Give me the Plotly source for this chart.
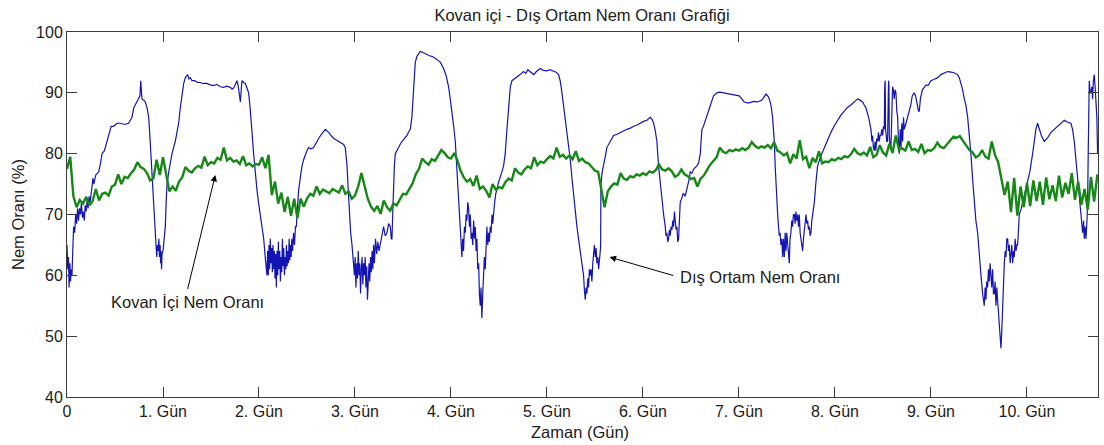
import numpy as np
import plotly.graph_objects as go

# ---------------- data ----------------
title_text = "Kovan içi - Dış Ortam Nem Oranı Grafiği"
x_label = "Zaman (Gün)"
y_label = "Nem Oranı (%)"
x_tick_vals = [0, 1, 2, 3, 4, 5, 6, 7, 8, 9, 10]
x_tick_text = ["0", "1. Gün", "2. Gün", "3. Gün", "4. Gün", "5. Gün",
               "6. Gün", "7. Gün", "8. Gün", "9. Gün", "10. Gün"]
y_tick_vals = [40, 50, 60, 70, 80, 90, 100]

# Inside-hive humidity (green), one reading every 1/30 day
green_step = 1 / 30
green_val = [
    # day 0
    77.5, 79.5, 73, 71.2, 72.4, 71.8, 72.9, 71.5, 72.2, 74.2, 72.3, 73.4, 73.6, 73.1, 74.6,
    74.9, 76.6, 75, 76.2, 76, 76.8, 77.4, 78.6, 77.8, 77.5, 76.8, 75.6, 75.9, 79, 76.5,
    # day 1
    79.4, 76.8, 73.8, 74.6, 73.9, 75.4, 76.1, 77.8, 77.2, 76.9, 77.6, 78, 77.7, 79.5, 78.1,
    78.6, 78.4, 79.3, 79, 81, 78.9, 79.3, 78.7, 78.9, 78.3, 79.6, 78.1, 78.4, 77.9, 78.3,
    # day 2
    78.2, 79.4, 77.6, 79.8, 73.2, 75.4, 71.8, 73.6, 70.4, 72.9, 69.8, 72.6, 69.4, 72.6, 71.3,
    72.6, 73.4, 73.1, 74.6, 73.4, 74.1, 73.8, 73.5, 74.2, 73.9, 73.6, 74.8, 73.4, 73.8, 72.6,
    # day 3
    73.1, 74.6, 76.8, 74.8, 72.6, 71.3, 70.6, 71.4, 70.1, 72.3, 71.2, 70.6, 71.8, 71.5, 72.4,
    73.4, 73.3, 74.2, 75.1, 76.6, 77.5, 79.2, 78.6, 78.2, 79.1, 78.8, 79.6, 80.6, 80.1, 79.4,
    # day 4
    79.2, 80.1, 78.9, 77.2, 76.1, 75.4, 75.8, 74.7, 76.4, 74.2, 74.6, 73.9, 72.8, 75, 74.1,
    74.5, 74.3, 75.3, 75.9, 75.6, 77.6, 76.9, 76.6, 77.4, 77.9, 77.6, 79.4, 78.1, 78.7, 78.5,
    # day 5
    79.1, 79.6, 79.2, 81, 79.5, 79.8, 79.2, 79.7, 79.1, 80.4, 78.8, 79.2, 78.6, 78.4, 77.8,
    77.2, 77, 74.2, 71.2, 73.8, 74.6, 75.1, 74.9, 76.8, 75.9, 75.7, 76.3, 76.1, 76.6, 76.4,
    # day 6
    76.8, 76.5, 77.1, 76.9, 77.3, 78.2, 77.4, 77.2, 77.6, 77.1, 76.2, 76.5, 77.4, 76.6, 76.3,
    75.8, 76, 74.6, 75.9, 76.4, 77.3, 78.2, 78.8, 79.4, 81, 80.3, 80.1, 80.6, 80.4, 80.7,
    # day 7
    80.5, 80.9, 80.6, 81, 81.9, 81.3, 80.9, 81.2, 81, 81.4, 80.9, 81.9, 80.5, 80.2, 79.7,
    80.1, 78.4, 79.9, 79.2, 82.2, 79.1, 79.5, 77.6, 79.3, 78.6, 80.4, 78.4, 78.7, 78.6, 79.1,
    # day 8
    78.9, 79.3, 79.1, 79.6, 79.4, 79.9, 80.8, 80.1, 79.8, 80.2, 79.7, 81.1, 79.4, 79.8, 81.4,
    80.2, 79.7, 81.6, 80.1, 83, 80.6, 80.9, 80.5, 82, 80.6, 80.8, 80.3, 81.6, 80.1, 80.6,
    # day 9
    80.5, 80.9, 81.8, 81.1, 80.9, 81.6, 82.1, 82.8, 82.6, 82.9, 82.1, 81.4, 80.6, 80.2, 79.4,
    79.7, 80.6, 79.5, 79.2, 82, 79.8, 78.6, 76, 73.2, 75.4, 70.4, 76, 69.8, 74.6, 71.2,
    # day 10
    75.2, 71.4, 75.6, 72.2, 75.4, 71.6, 76.1, 72.5, 74.8, 72.2, 76.4, 72.8, 75.2, 73.4, 76.8,
    72.4, 75.4, 71.6, 74.2, 70.8, 76.2, 72.1, 76.6,
]

# Outside humidity (blue), (day, value) readings
blue_pts = [
    (0.000, 65), (0.008, 61), (0.015, 63), (0.022, 58), (0.030, 62), (0.037, 59), (0.045, 61),
    (0.052, 60), (0.060, 64), (0.069, 68), (0.08, 67), (0.09, 70), (0.10, 68.5), (0.11, 71),
    (0.12, 69), (0.13, 71), (0.14, 70), (0.15, 72), (0.16, 69.5), (0.17, 70.5), (0.18, 69),
    (0.19, 71.5), (0.20, 70.5), (0.21, 72.5), (0.22, 71), (0.23, 73), (0.24, 72), (0.25, 74),
    (0.26, 74.5), (0.27, 76), (0.28, 75), (0.30, 76.5), (0.33, 77), (0.35, 78.5), (0.365, 80),
    (0.39, 80.5), (0.417, 82), (0.44, 83), (0.46, 84.5), (0.486, 84.5), (0.52, 85), (0.556, 85),
    (0.60, 84.8), (0.642, 85), (0.66, 85.5), (0.677, 86), (0.695, 87.5), (0.712, 88), (0.73, 88.6),
    (0.747, 89), (0.76, 89.5), (0.768, 92), (0.772, 89.8), (0.781, 89), (0.80, 88.8), (0.816, 88.5),
    (0.835, 87.5), (0.851, 86), (0.863, 83), (0.875, 80), (0.885, 77), (0.896, 75), (0.905, 71),
    (0.913, 69), (0.920, 67), (0.928, 65), (0.935, 63), (0.942, 65), (0.950, 64), (0.957, 66),
    (0.963, 63), (0.970, 65), (0.975, 62), (0.980, 64), (0.985, 61), (0.990, 63.5), (1.000, 64),
    (1.012, 66), (1.024, 68), (1.033, 72), (1.042, 75), (1.06, 77), (1.075, 78.5), (1.094, 80),
    (1.11, 81), (1.128, 82), (1.145, 83.5), (1.163, 85), (1.18, 87.5), (1.198, 90), (1.215, 91.5),
    (1.233, 92.5), (1.245, 92.8), (1.257, 93), (1.27, 92.3), (1.285, 92.5), (1.302, 92), (1.33, 92),
    (1.36, 91.7), (1.389, 91.7), (1.42, 91.5), (1.45, 91.6), (1.493, 91.3), (1.53, 91.2), (1.56, 91.4),
    (1.597, 91), (1.63, 90.9), (1.665, 91.1), (1.701, 90.9), (1.72, 90.6), (1.736, 90.8), (1.755, 91.5),
    (1.771, 92), (1.785, 91), (1.797, 89.5), (1.806, 88.5), (1.815, 90.5), (1.823, 92), (1.84, 91.7),
    (1.858, 91.5), (1.875, 90.8), (1.892, 90), (1.905, 88), (1.917, 86), (1.93, 83), (1.944, 80),
    (1.96, 77), (1.979, 74), (1.995, 72), (2.014, 70), (2.03, 68), (2.049, 66), (2.065, 63),
    (2.083, 60), (2.09, 64), (2.097, 60), (2.104, 65), (2.111, 61), (2.118, 66), (2.125, 62),
    (2.132, 64.5), (2.139, 60.5), (2.146, 65), (2.153, 61), (2.160, 64), (2.167, 59.5), (2.174, 63.5),
    (2.181, 58), (2.188, 64), (2.195, 60), (2.202, 65.5), (2.209, 61), (2.216, 64), (2.223, 59),
    (2.230, 63), (2.237, 60.5), (2.244, 66), (2.251, 61.5), (2.258, 64.5), (2.265, 60), (2.272, 63),
    (2.279, 61), (2.286, 65), (2.293, 61.5), (2.300, 64), (2.307, 62), (2.314, 66), (2.321, 62.5),
    (2.328, 65), (2.335, 63), (2.342, 66), (2.350, 64), (2.36, 67), (2.37, 65), (2.38, 68),
    (2.389, 68), (2.40, 71), (2.413, 74), (2.43, 76), (2.448, 78), (2.465, 79), (2.483, 80),
    (2.50, 80.5), (2.517, 81), (2.54, 80.8), (2.569, 81), (2.585, 81.6), (2.604, 82), (2.62, 82.5),
    (2.639, 83), (2.665, 83.5), (2.691, 84), (2.71, 83.8), (2.726, 83.5), (2.75, 83), (2.778, 82.5),
    (2.80, 82.3), (2.83, 82), (2.855, 81.8), (2.882, 81.5), (2.899, 81), (2.908, 79.5), (2.917, 78),
    (2.93, 74), (2.941, 70), (2.955, 67), (2.969, 65), (2.978, 63), (2.986, 62), (2.994, 60),
    (3.002, 63), (3.010, 58), (3.018, 62), (3.026, 59.5), (3.034, 64), (3.042, 60), (3.050, 62),
    (3.058, 57), (3.066, 61), (3.074, 63), (3.082, 58.5), (3.090, 62), (3.098, 60), (3.106, 63),
    (3.114, 58), (3.122, 61.5), (3.130, 56), (3.138, 60.5), (3.146, 62), (3.154, 59), (3.162, 63),
    (3.170, 60.5), (3.178, 64), (3.186, 61), (3.194, 65), (3.202, 62), (3.214, 66), (3.226, 63.5),
    (3.238, 65.5), (3.25, 64), (3.263, 65), (3.28, 66.5), (3.298, 68), (3.315, 66.5), (3.333, 67),
    (3.35, 68.5), (3.368, 68), (3.378, 66), (3.385, 66), (3.393, 70), (3.402, 75), (3.41, 78),
    (3.420, 80), (3.437, 80.6), (3.454, 81), (3.47, 81.5), (3.489, 82), (3.515, 82.5), (3.541, 83),
    (3.56, 83.6), (3.576, 84), (3.593, 86), (3.602, 88), (3.611, 90), (3.62, 93), (3.628, 95),
    (3.645, 96), (3.663, 96.5), (3.68, 96.8), (3.697, 96.7), (3.72, 96.5), (3.749, 96.3), (3.775, 96.1),
    (3.802, 96), (3.83, 95.8), (3.854, 95.5), (3.89, 95), (3.923, 94), (3.95, 92.8), (3.975, 91),
    (3.992, 89), (4.010, 87), (4.028, 84.5), (4.045, 82), (4.062, 77), (4.079, 73), (4.088, 70),
    (4.097, 68), (4.105, 65), (4.114, 63), (4.122, 66), (4.131, 64), (4.140, 68), (4.149, 67),
    (4.158, 70), (4.166, 69), (4.175, 72), (4.184, 71), (4.192, 68), (4.201, 70), (4.210, 66),
    (4.218, 67), (4.227, 65), (4.236, 69), (4.245, 66), (4.253, 68), (4.262, 64), (4.270, 66),
    (4.279, 61), (4.288, 62), (4.296, 57), (4.305, 55), (4.313, 58), (4.322, 53), (4.331, 57),
    (4.340, 60), (4.348, 63), (4.357, 61), (4.366, 66), (4.374, 68), (4.383, 65), (4.392, 67),
    (4.400, 65.5), (4.409, 68), (4.418, 67), (4.427, 70), (4.435, 68.5), (4.444, 71), (4.455, 72),
    (4.467, 73.5), (4.479, 74), (4.49, 75), (4.513, 76), (4.53, 77), (4.548, 78), (4.565, 80),
    (4.583, 84), (4.60, 88), (4.618, 91), (4.635, 92), (4.66, 92.3), (4.687, 92.5), (4.72, 93),
    (4.756, 93.5), (4.78, 93.2), (4.80, 93.8), (4.826, 93.5), (4.845, 93.2), (4.861, 93), (4.89, 93.5),
    (4.93, 94), (4.96, 93.7), (5.000, 93.6), (5.03, 93.8), (5.069, 93.5), (5.095, 93.4), (5.121, 93),
    (5.14, 91.8), (5.156, 90), (5.172, 88), (5.190, 86), (5.207, 84), (5.225, 82), (5.243, 79),
    (5.260, 76), (5.278, 73), (5.295, 70), (5.312, 68), (5.329, 66), (5.345, 64), (5.355, 63),
    (5.364, 62), (5.372, 60.5), (5.381, 60), (5.390, 57.5), (5.399, 56), (5.407, 58), (5.416, 57),
    (5.425, 59.5), (5.433, 58), (5.442, 61), (5.451, 60), (5.459, 61), (5.468, 59), (5.477, 62),
    (5.486, 64), (5.494, 65), (5.503, 63), (5.512, 64.5), (5.520, 62), (5.529, 63), (5.538, 61),
    (5.546, 62), (5.555, 64), (5.559, 65), (5.562, 75), (5.575, 77), (5.590, 78), (5.607, 79.5),
    (5.624, 81), (5.66, 82), (5.694, 83), (5.73, 83.2), (5.763, 83.5), (5.80, 83.8), (5.833, 84),
    (5.87, 84.2), (5.902, 84.5), (5.94, 84.7), (5.972, 85), (6.005, 85.3), (6.041, 85.5), (6.06, 85.8),
    (6.076, 86), (6.095, 85.6), (6.111, 85), (6.128, 83.8), (6.145, 82), (6.162, 78), (6.180, 75),
    (6.197, 72), (6.215, 70), (6.232, 68), (6.240, 66.5), (6.249, 67), (6.258, 65.5), (6.267, 66),
    (6.275, 67.5), (6.284, 66.5), (6.293, 68), (6.302, 67.5), (6.311, 69), (6.319, 68), (6.328, 70.5),
    (6.336, 69), (6.345, 67.5), (6.354, 68), (6.362, 65.5), (6.371, 66), (6.380, 70), (6.388, 72),
    (6.40, 72.5), (6.42, 73.5), (6.44, 73), (6.457, 74), (6.475, 75), (6.484, 76), (6.492, 77),
    (6.51, 76.8), (6.53, 77.5), (6.562, 78), (6.58, 78.5), (6.597, 80), (6.605, 82), (6.614, 84),
    (6.63, 84.5), (6.65, 85.5), (6.683, 87), (6.71, 88.5), (6.735, 89.5), (6.770, 90), (6.80, 90.1),
    (6.840, 90), (6.92, 89.8), (7.003, 89.5), (7.03, 89), (7.055, 88.5), (7.10, 88.3), (7.15, 88.6),
    (7.194, 88.5), (7.24, 88.8), (7.281, 89.8), (7.30, 89.5), (7.316, 89), (7.333, 88), (7.350, 86),
    (7.36, 84), (7.368, 82), (7.377, 78), (7.385, 75), (7.394, 72), (7.403, 70), (7.412, 68),
    (7.420, 66.5), (7.428, 67), (7.437, 65), (7.446, 66), (7.455, 63), (7.463, 66), (7.472, 63),
    (7.481, 67), (7.490, 64), (7.498, 67), (7.507, 65), (7.515, 64), (7.524, 62), (7.532, 66),
    (7.541, 67), (7.550, 69), (7.559, 68), (7.567, 70), (7.576, 70), (7.585, 68.5), (7.593, 70.5),
    (7.602, 69), (7.611, 70), (7.620, 68), (7.628, 70), (7.637, 67), (7.646, 66), (7.654, 64.5),
    (7.663, 64), (7.672, 66), (7.680, 67), (7.689, 69), (7.698, 70), (7.707, 68.5), (7.715, 69),
    (7.724, 67.5), (7.733, 68), (7.741, 66.5), (7.750, 67), (7.759, 69), (7.768, 70), (7.776, 71),
    (7.785, 72), (7.80, 75), (7.819, 78), (7.85, 79.5), (7.889, 81), (7.92, 82.3), (7.958, 83.5),
    (7.99, 84.5), (8.028, 85.5), (8.06, 86.3), (8.097, 87), (8.13, 87.6), (8.166, 88), (8.20, 88.5),
    (8.236, 89), (8.26, 88.8), (8.288, 88.5), (8.305, 88), (8.323, 87.5), (8.35, 86), (8.375, 84),
    (8.385, 82), (8.392, 83), (8.400, 81), (8.409, 80.5), (8.418, 82), (8.426, 80.5), (8.435, 82.5),
    (8.444, 82), (8.453, 83.5), (8.461, 82), (8.470, 83), (8.479, 83), (8.488, 84), (8.496, 83),
    (8.505, 84.5), (8.514, 84), (8.518, 91), (8.523, 92), (8.527, 84), (8.531, 83), (8.540, 82),
    (8.548, 82), (8.553, 91), (8.558, 92), (8.562, 91.5), (8.566, 83), (8.575, 81), (8.583, 81),
    (8.59, 85), (8.600, 91), (8.608, 90.5), (8.617, 89), (8.626, 90.5), (8.635, 90), (8.644, 87),
    (8.653, 86), (8.661, 82), (8.670, 80), (8.679, 84), (8.688, 81), (8.696, 85), (8.705, 82),
    (8.714, 86), (8.722, 84), (8.740, 85), (8.757, 86), (8.775, 87), (8.790, 88), (8.805, 89.5),
    (8.826, 90), (8.84, 89.5), (8.855, 88), (8.87, 87), (8.878, 87), (8.89, 89), (8.91, 90.5),
    (8.930, 91), (8.95, 91.3), (8.97, 91.2), (8.999, 92), (9.03, 92.2), (9.07, 92.5), (9.104, 93),
    (9.14, 93.2), (9.173, 93.5), (9.21, 93.4), (9.24, 93.3), (9.277, 93), (9.295, 92.5), (9.312, 91.5),
    (9.330, 90.5), (9.347, 89), (9.364, 88), (9.382, 86), (9.40, 83), (9.416, 80), (9.433, 76),
    (9.451, 72), (9.468, 69), (9.486, 67), (9.503, 63), (9.521, 60), (9.538, 57), (9.555, 55),
    (9.564, 58), (9.573, 56), (9.581, 59), (9.590, 58), (9.599, 61), (9.607, 59), (9.616, 62),
    (9.625, 60), (9.633, 58), (9.642, 61), (9.651, 57), (9.660, 57), (9.668, 59), (9.677, 55),
    (9.686, 58), (9.694, 56), (9.703, 54), (9.712, 52), (9.720, 51), (9.729, 48), (9.738, 51),
    (9.746, 55), (9.755, 58), (9.764, 62), (9.773, 64), (9.781, 63), (9.790, 66), (9.799, 66),
    (9.807, 64), (9.816, 65), (9.825, 62), (9.833, 63), (9.842, 65), (9.851, 62), (9.860, 64),
    (9.868, 63), (9.877, 66), (9.886, 64), (9.895, 65), (9.903, 65), (9.912, 68), (9.920, 70),
    (9.94, 71), (9.955, 72), (9.97, 73), (9.989, 74), (10.01, 75.5), (10.03, 77), (10.059, 80),
    (10.075, 82), (10.093, 84), (10.111, 85), (10.13, 84), (10.15, 83), (10.180, 82), (10.21, 82.5),
    (10.25, 83.5), (10.284, 84), (10.31, 84.5), (10.35, 85), (10.389, 85.5), (10.42, 85.2), (10.458, 85),
    (10.475, 84), (10.493, 82), (10.51, 79), (10.527, 76), (10.545, 73), (10.562, 70), (10.57, 68),
    (10.58, 67), (10.59, 69), (10.597, 66), (10.605, 68), (10.615, 66), (10.625, 69), (10.632, 72),
    (10.638, 80), (10.644, 88), (10.649, 92), (10.658, 90), (10.667, 90), (10.675, 91), (10.684, 89),
    (10.692, 92), (10.701, 93), (10.710, 91), (10.719, 89), (10.728, 86), (10.736, 80),
]

# annotation positions (day, humidity)
inner_label = "Kovan İçi Nem Oranı"
inner_text_pos = (1.25, 55.6)
inner_arrow_tail = (1.253, 57.5)
inner_arrow_head = (1.545, 76.5)
outer_label = "Dış Ortam Nem Oranı"
outer_text_pos = (7.22, 59.74)
outer_arrow_tail = (6.33, 59.9)
outer_arrow_head = (5.652, 63.0)

# ---------------- figure ----------------
green_day = np.arange(len(green_val)) * green_step
blue_day = [p[0] for p in blue_pts]
blue_val = [p[1] for p in blue_pts]

FONT = "Liberation Sans, Arial, Helvetica, sans-serif"
AX_COLOR = "#3c3c3c"
TXT = "#202020"

fig = go.Figure()
fig.add_trace(go.Scatter(x=blue_day, y=blue_val, mode="lines",
                         line=dict(color="#1414b4", width=1.2), name="Dış Ortam"))
fig.add_trace(go.Scatter(x=green_day, y=green_val, mode="lines",
                         line=dict(color="#168816", width=2.4), name="Kovan İçi"))

axis_common = dict(showline=True, linecolor=AX_COLOR, linewidth=1, mirror="ticks",
                   ticks="inside", ticklen=10, tickcolor=AX_COLOR, tickwidth=1,
                   showgrid=False, zeroline=False,
                   tickfont=dict(family=FONT, size=16, color=TXT))

fig.update_layout(
    width=1104, height=445,
    margin=dict(l=67, r=6, t=32, b=48),
    paper_bgcolor="white", plot_bgcolor="white",
    showlegend=False,
    font=dict(family=FONT, size=16, color=TXT),
    title=dict(text=title_text, x=582 / 1104, xanchor="center", y=1 - 15 / 445, yanchor="middle",
               font=dict(family=FONT, size=16.5, color=TXT)),
    xaxis=dict(range=[0, 10.74], tickvals=x_tick_vals, ticktext=x_tick_text, **axis_common),
    yaxis=dict(range=[40, 100], tickvals=y_tick_vals, **axis_common),
)

ann = []
# axis titles
ann.append(dict(text=x_label, xref="paper", yref="paper", x=0.4975, y=-35 / 365,
                xanchor="center", yanchor="middle", showarrow=False,
                font=dict(family=FONT, size=16.5, color=TXT)))
ann.append(dict(text=y_label, xref="paper", yref="paper", x=-49.5 / 1031, y=0.5,
                xanchor="center", yanchor="middle", showarrow=False, textangle=-90,
                font=dict(family=FONT, size=16.5, color=TXT)))
# labels
for lab, pos in [(inner_label, inner_text_pos), (outer_label, outer_text_pos)]:
    ann.append(dict(text=lab, x=pos[0], y=pos[1], xref="x", yref="y", showarrow=False,
                    xanchor="center", yanchor="middle",
                    font=dict(family=FONT, size=16.5, color=TXT)))
# arrows
for tail, head in [(inner_arrow_tail, inner_arrow_head), (outer_arrow_tail, outer_arrow_head)]:
    ann.append(dict(text="", x=head[0], y=head[1], ax=tail[0], ay=tail[1],
                    xref="x", yref="y", axref="x", ayref="y",
                    showarrow=True, arrowhead=2, arrowsize=1.3, arrowwidth=1,
                    arrowcolor="black", standoff=0, startstandoff=0))
fig.update_layout(annotations=ann)

fig.write_html("out.html", config={"displayModeBar": False},
               post_script="document.body.style.margin='0';document.body.style.overflow='hidden';")
